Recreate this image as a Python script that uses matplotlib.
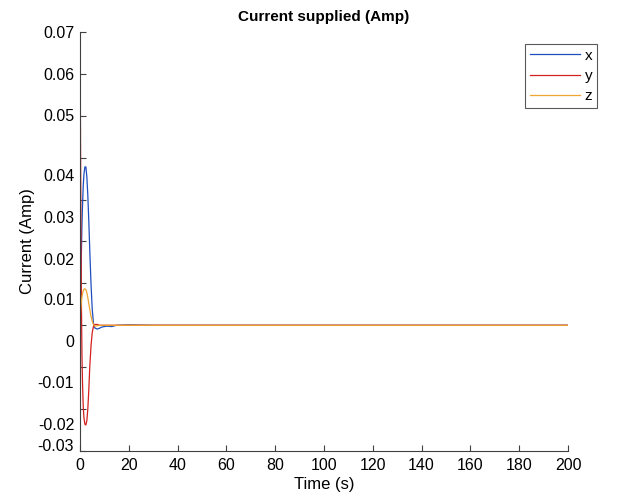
import matplotlib
matplotlib.use("Agg")
import matplotlib.pyplot as plt
from matplotlib.transforms import blended_transform_factory

plt.rcParams["font.family"] = ["Liberation Sans", "DejaVu Sans"]

# time samples (s) and the three current components (Amp)
t = [0, 0.1, 0.2, 0.3, 0.4, 0.6, 0.8, 1.0, 1.3, 1.6, 2.0, 2.4, 2.8, 3.2,
     3.6, 4.0, 4.5, 5.0, 5.5, 6.0, 7.0, 8.0, 9.0, 11, 13, 15, 20, 30, 50, 200]
cur_x = [0.0, 0.003, 0.006, 0.009, 0.012, 0.018, 0.024, 0.028, 0.033, 0.036,
         0.0378, 0.0378, 0.0355, 0.031, 0.025, 0.018, 0.010, 0.004, 0.0005,
         -0.0006, -0.0009, -0.0007, -0.0004, -0.0002, -0.0003, 0.0, 0.0001,
         0.0, 0.0, 0.0]
cur_y = [0.069, 0.058, 0.046, 0.033, 0.021, 0.004, -0.007, -0.013, -0.019,
         -0.022, -0.0236, -0.0238, -0.0228, -0.020, -0.0155, -0.010, -0.005,
         -0.0018, -0.0003, 0.0002, 0.0002, 0.0, 0.0, 0.0, 0.0, 0.0, 0.0,
         0.0, 0.0, 0.0]
cur_z = [0.0, 0.002, 0.003, 0.0038, 0.0045, 0.0058, 0.0068, 0.0075, 0.0082,
         0.0086, 0.0087, 0.0085, 0.0078, 0.0066, 0.0052, 0.0038, 0.0022,
         0.001, 0.0002, -0.0002, -0.0001, 0.0, 0.0, 0.0, 0.0, 0.0, 0.0,
         0.0, 0.0, 0.0]

x_ticks = list(range(0, 201, 20))
y_ticks = [0.07, 0.06, 0.05, 0.04, 0.03, 0.02, 0.01, 0.0, -0.01, -0.02, -0.03]
y_tick_text = ["0.07", "0.06", "0.05", "0.04", "0.03", "0.02", "0.01", "0",
               "-0.01", "-0.02", "-0.03"]
# where the tick texts actually sit in the reference (they drift off the marks)
y_text_at = [0.0697, 0.0597, 0.0498, 0.0354, 0.0254, 0.0154, 0.0058,
             -0.0042, -0.0140, -0.0238, -0.0290]

fig = plt.figure(figsize=(6.26, 4.97), dpi=100)
ax = fig.add_axes([80 / 626, 1 - 451 / 497, 488 / 626, 419 / 497])

ax.plot(t, cur_x, color="#1f4fbf", lw=0.9, label="x")
ax.plot(t, cur_y, color="#d42020", lw=0.9, label="y")
ax.plot(t, cur_z, color="#eea630", lw=0.9, label="z")

ax.set_xlim(0, 200)
ax.set_ylim(-0.03, 0.07)
ax.set_xticks(x_ticks)
ax.set_yticks(y_ticks)
ax.set_yticklabels([""] * len(y_ticks))
ax.tick_params(direction="in", length=4, width=0.8, colors="#404040",
               labelcolor="black", labelsize=11.5)
ax.tick_params(axis="x", pad=5)

trans = blended_transform_factory(ax.transAxes, ax.transData)
for txt, yv in zip(y_tick_text, y_text_at):
    ax.text(-0.012, yv, txt, transform=trans, ha="right", va="center",
            fontsize=11.5)

for s in ["top", "right"]:
    ax.spines[s].set_visible(False)
for s in ["left", "bottom"]:
    ax.spines[s].set_color("#404040")
    ax.spines[s].set_linewidth(0.8)

ax.set_title("Current supplied (Amp)", fontsize=11, fontweight="bold", pad=8)
ax.set_xlabel("Time (s)", fontsize=12, labelpad=3)
ax.set_ylabel("Current (Amp)", fontsize=12, labelpad=29)

leg = ax.legend(loc="upper right", bbox_to_anchor=(597 / 626, 1 - 44 / 497),
                bbox_transform=fig.transFigure, fontsize=11, fancybox=False,
                handlelength=3.3, handletextpad=0.3, borderpad=0.3,
                labelspacing=0.42, borderaxespad=0)
leg.get_frame().set_edgecolor("#303030")
leg.get_frame().set_linewidth(0.8)

fig.savefig("out.png", dpi=100)
